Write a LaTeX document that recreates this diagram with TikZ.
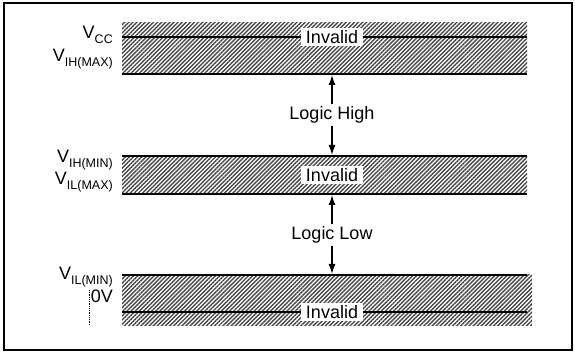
\documentclass[tikz,border=0pt]{standalone}
\usepackage{fontspec}
\setmainfont{Liberation Sans}
\usetikzlibrary{patterns.meta,arrows.meta}
\tikzset{%
	% Style of the level line
	Level/.style={line width=1.5pt,black},
	% Style of the hatched band
	Band/.style={pattern={Lines[angle=45,distance=2.9pt,line width=1.4pt]},pattern color=black!72},
	% Style of the voltage label
	VoltName/.style={anchor=base east,inner sep=0,font=\fontsize{18}{19}\selectfont},
	% Style of the region label
	RegionName/.style={font=\fontsize{18}{20}\selectfont,fill=white,inner xsep=5pt,inner ysep=2pt},
	% Style of the arrow
	Arrow/.style={line width=1.3pt,-{Latex[length=10pt,width=7pt]}},
}
\newcommand{\Volt}[1]{V\raisebox{-5pt}{\fontsize{12.5}{13}\selectfont #1}}

\begin{document}
\begin{tikzpicture}[x=1pt,y=-1pt]
\useasboundingbox (0,0) rectangle (575,352);
\draw[line width=2pt] (4,3) rectangle (572,350);

%~~~~~~~~~~~~~~~~~~~~~~~~~~~~~~~~~~~~~~~~~~~~~~~~~~
% Hatched bands
%~~~~~~~~~~~~~~~~~~~~~~~~~~~~~~~~~~~~~~~~~~~~~~~~~~
\fill[Band] (122,23) rectangle (527,74);
\fill[Band] (122,156) rectangle (527,194);
\fill[Band] (122,275) rectangle (532,325);

%~~~~~~~~~~~~~~~~~~~~~~~~~~~~~~~~~~~~~~~~~~~~~~~~~~
% Level lines
%~~~~~~~~~~~~~~~~~~~~~~~~~~~~~~~~~~~~~~~~~~~~~~~~~~
\coordinate (L1a) at (122,37);  \coordinate (L1b) at (527,37);
\coordinate (L2a) at (122,74);  \coordinate (L2b) at (527,74);
\coordinate (L3a) at (122,156); \coordinate (L3b) at (527,156);
\coordinate (L4a) at (122,194); \coordinate (L4b) at (527,194);
\coordinate (L5a) at (122,275); \coordinate (L5b) at (527,275);
\coordinate (L6a) at (122,312); \coordinate (L6b) at (527,312);

\draw[Level] (L1a) -- (L1b);
\draw[Level] (L2a) -- (L2b);
\draw[Level] (L3a) -- (L3b);
\draw[Level] (L4a) -- (L4b);
\draw[Level] (L5a) -- (L5b);
\draw[Level] (L6a) -- (L6b);

%~~~~~~~~~~~~~~~~~~~~~~~~~~~~~~~~~~~~~~~~~~~~~~~~~~
% Region labels
%~~~~~~~~~~~~~~~~~~~~~~~~~~~~~~~~~~~~~~~~~~~~~~~~~~
\node[RegionName] (Inv1) at (332,37) {Invalid};
\node[RegionName] (Inv2) at (332,175) {Invalid};
\node[RegionName] (Inv3) at (332,312) {Invalid};

\node[RegionName,fill=none] (High) at (332,115) {Logic High};
\node[RegionName,fill=none] (Low) at (332,235) {Logic Low};

%Arrows from the logic labels to the band edges
\coordinate (E2) at (332,75);
\coordinate (E3) at (332,155);
\coordinate (E4) at (332,195);
\coordinate (E5) at (332,274);
\draw[Arrow] (High) -- (E2);
\draw[Arrow] (High) -- (E3);
\draw[Arrow] (Low) -- (E4);
\draw[Arrow] (Low) -- (E5);

%~~~~~~~~~~~~~~~~~~~~~~~~~~~~~~~~~~~~~~~~~~~~~~~~~~
% Voltage labels
%~~~~~~~~~~~~~~~~~~~~~~~~~~~~~~~~~~~~~~~~~~~~~~~~~~
\node[VoltName] (Vcc) at (113,39) {\Volt{CC}};
\node[VoltName] (VihMax) at (113,62) {\Volt{IH(MAX)}};
\node[VoltName] (VihMin) at (113,163) {\Volt{IH(MIN)}};
\node[VoltName] (VilMax) at (113,185) {\Volt{IL(MAX)}};
\node[VoltName] (VilMin) at (113,280) {\Volt{IL(MIN)}};
\node[VoltName] (Zero) at (113,303) {0V};

\coordinate (D1) at (89,290);
\coordinate (D2) at (89,325);
\draw[densely dotted,line width=0.8pt] (D1) -- (D2);

\end{tikzpicture}
\end{document}
